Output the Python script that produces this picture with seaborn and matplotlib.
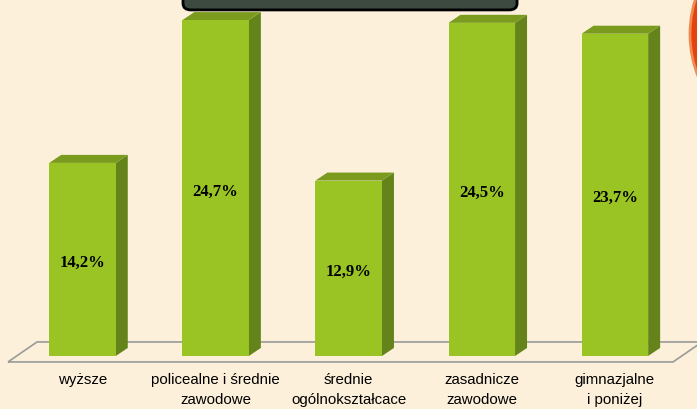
import matplotlib
matplotlib.use("Agg")
import matplotlib.pyplot as plt
import seaborn as sns
import pandas as pd
from matplotlib.patches import Polygon, FancyBboxPatch, Circle

# --- data ---
categories = ['wyższe', 'policealne i średnie\nzawodowe', 'średnie\nogólnokształcace',
              'zasadnicze\nzawodowe', 'gimnazjalne\ni poniżej']
values = [14.2, 24.7, 12.9, 24.5, 23.7]
value_labels = ['14,2%', '24,7%', '12,9%', '24,5%', '23,7%']

bg = '#fdf0da'
front = '#99c423'
side = '#64831a'
top = '#7a9b1e'

df = pd.DataFrame({'cat': categories, 'val': values})

sns.set_theme(style='white')
plt.rcParams['font.family'] = ['Liberation Sans', 'DejaVu Sans']

fig = plt.figure(figsize=(6.97, 4.09), dpi=100)
fig.patch.set_facecolor(bg)
ax = fig.add_axes([0, 0, 1, 1])
ax.set_facecolor(bg)

dx, dy = 0.09, 0.59  # depth of the 3d look

sns.barplot(data=df, x='cat', y='val', color=front, width=0.5, saturation=1,
            ax=ax, zorder=3, linewidth=0)
# pixel-like scale: 133.1 px per category, 13.6 px per percent
ax.set_xlim(-0.62, 4.617)
ax.set_ylim(-3.9, 26.18)

for p, lab in zip(ax.containers[0], value_labels):
    x0, w, h = p.get_x(), p.get_width(), p.get_height()
    x1 = x0 + w
    ax.add_patch(Polygon([(x1, 0), (x1 + dx, dy), (x1 + dx, h + dy), (x1, h)],
                         closed=True, facecolor=side, edgecolor='none', zorder=2.9))
    ax.add_patch(Polygon([(x0, h), (x0 + dx, h + dy), (x1 + dx, h + dy), (x1, h)],
                         closed=True, facecolor=top, edgecolor='none', zorder=2.9))
    ax.text(x0 + w / 2, h / 2 - 0.25, lab, ha='center', va='center', fontsize=12,
            fontweight='bold', color='black',
            family=['Liberation Serif', 'DejaVu Serif'], zorder=5)

# floor outline
ax.add_patch(Polygon([(-0.56, -0.44), (-0.342, 1.03), (4.655, 1.03), (4.437, -0.44)],
                     closed=True, facecolor='none', edgecolor='#9a9a9a', lw=1.2, zorder=1))

# category labels below the floor
for i, c in enumerate(categories):
    ax.text(i, -1.25, c, ha='center', va='top', fontsize=10.8, color='black',
            linespacing=1.55, zorder=5)

# title box (cropped at top)
ax.add_patch(FancyBboxPatch((0.755, 25.45), 2.51, 3.0,
                            boxstyle='round,pad=0,rounding_size=0.06',
                            facecolor='#3c4a40', edgecolor='black', lw=2, zorder=6,
                            mutation_aspect=8))

# orange decoration at the right edge
fig.patches.append(Circle((805, 375), 115, transform=None, facecolor='#e6420f',
                          edgecolor='#f08a50', lw=2))

ax.set_xticks([])
ax.set_yticks([])
ax.set_xlabel('')
ax.set_ylabel('')
sns.despine(ax=ax, left=True, bottom=True)

fig.savefig('out.png', dpi=100, facecolor=bg)
